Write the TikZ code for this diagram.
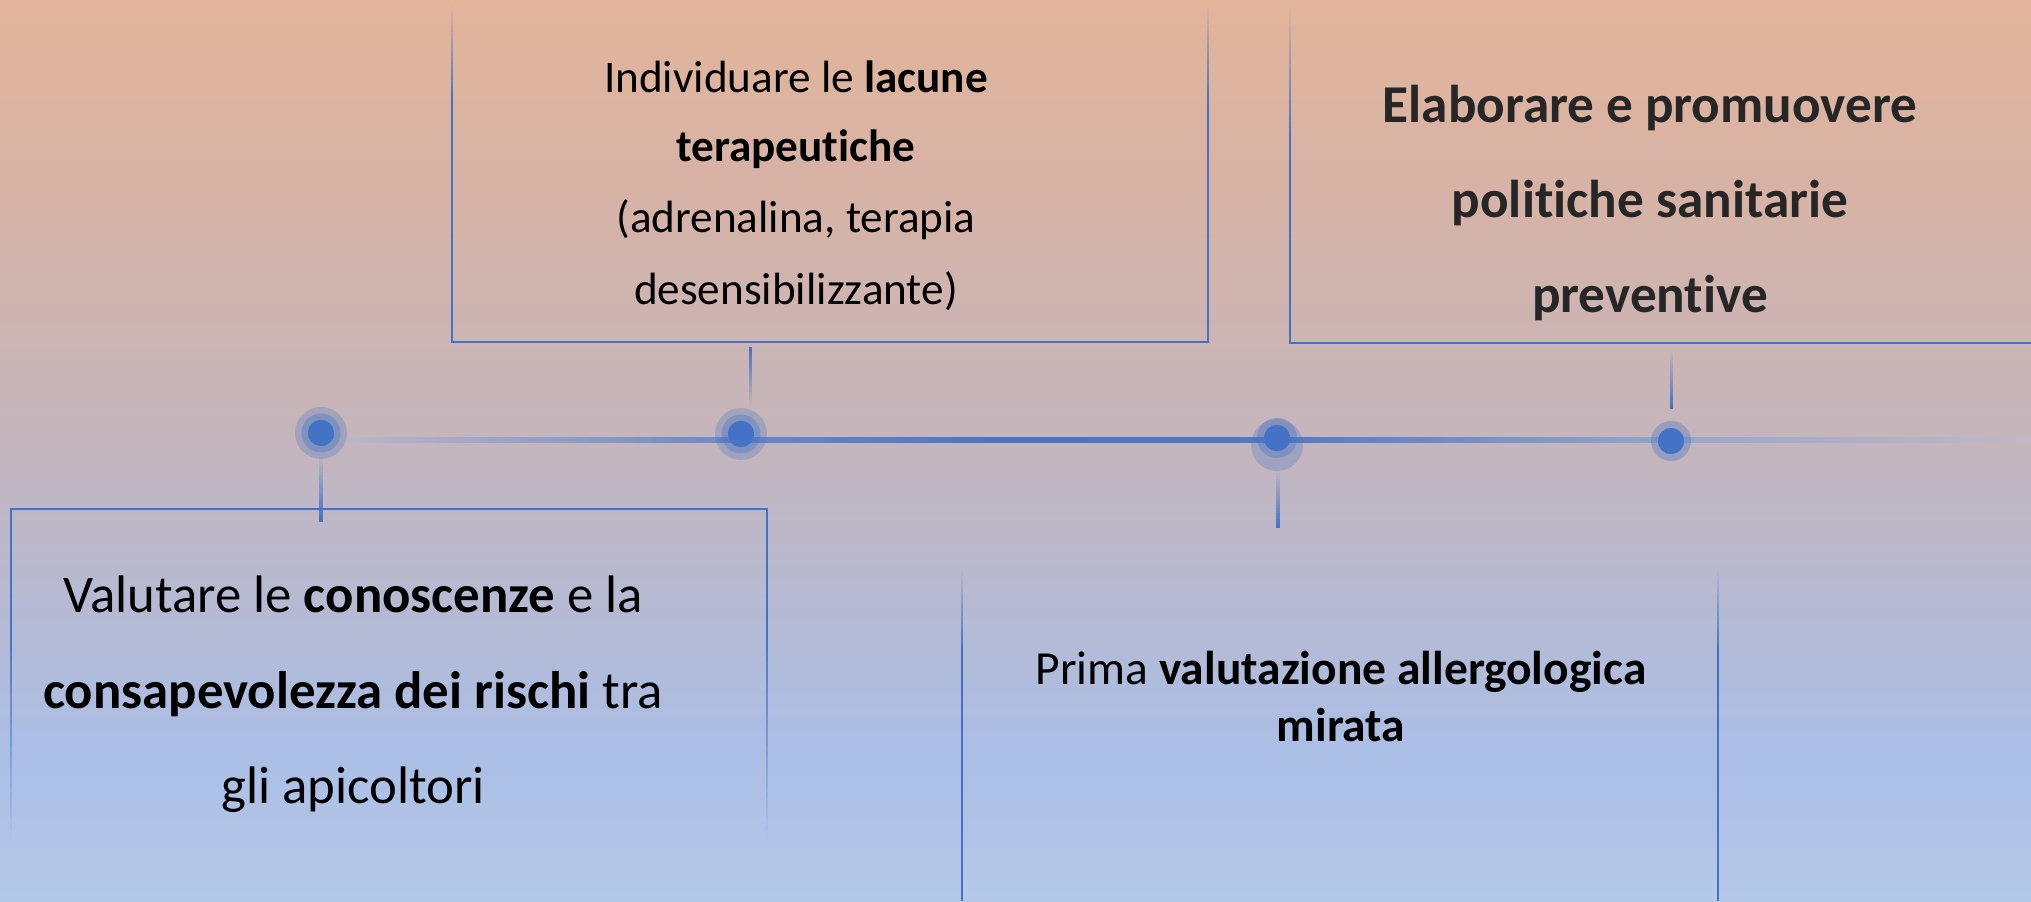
\documentclass[tikz,border=0pt]{standalone}
\usepackage{fontspec}
\setmainfont{Carlito}[Ligatures=NoCommon]
\definecolor{obl}{HTML}{4472C4}
\definecolor{dgray}{HTML}{262626}
\definecolor{bgA}{HTML}{B4C8E8}
\definecolor{bgB}{HTML}{ABBEE5}
\definecolor{bgC}{HTML}{B6BAD2}
\definecolor{bgD}{HTML}{C4B6BE}
\definecolor{bgE}{HTML}{D6B3A6}
\definecolor{bgF}{HTML}{E2B49A}
\definecolor{lA}{HTML}{BDB6C6}
\definecolor{lB}{HTML}{6A88C6}
\definecolor{lC}{HTML}{4A75C5}
\definecolor{lD}{HTML}{5279C5}
\definecolor{lE}{HTML}{7A92C6}
\definecolor{lF}{HTML}{97A6C8}
\definecolor{lG}{HTML}{C3B8C3}
\pgfdeclareverticalshading{bgshade}{100bp}{color(0bp)=(bgA); color(25bp)=(bgA); color(33.4bp)=(bgB); color(41.7bp)=(bgC); color(50bp)=(bgD); color(63.9bp)=(bgE); color(75bp)=(bgF); color(100bp)=(bgF)}
\pgfdeclarehorizontalshading{tlshade}{100bp}{color(0bp)=(lA); color(25bp)=(lA); color(36.75bp)=(lB); color(44.5bp)=(lC); color(52.6bp)=(lD); color(59.25bp)=(lE); color(64.3bp)=(lF); color(75bp)=(lG); color(100bp)=(lG)}
% #1 x, #2 y where opaque, #3 y where transparent, #4 half width (px units)
\newcommand\fadebar[4]{%
  \foreach \fbi in {0,...,19}{%
    \pgfmathsetmacro\fbya{#2+(#3-#2)*\fbi/20}%
    \pgfmathsetmacro\fbyb{#2+(#3-#2)*(\fbi+1)/20}%
    \pgfmathsetmacro\fbop{1-(\fbi+0.5)/20}%
    \fill[obl, opacity=\fbop] (#1-#4,\fbya) rectangle (#1+#4,\fbyb);
  }%
}
\begin{document}
\begin{tikzpicture}[x=0.5pt,y=0.5pt,
  lbl/.style={anchor=base, inner sep=0, font=\fontsize{26.4pt}{30pt}\selectfont},
  lblb/.style={anchor=base, inner sep=0, font=\fontsize{26.6pt}{30pt}\selectfont},
  lbls/.style={anchor=base, inner sep=0, font=\fontsize{23.75pt}{28pt}\selectfont},
  lblt/.style={anchor=base, inner sep=0, font=\fontsize{22.6pt}{27pt}\selectfont},
  edge/.style={obl, line width=1.25pt},
  dotc/.style={circle, fill=obl, minimum size=13pt, inner sep=0},
  halo/.style={fill=obl, opacity=0.28},
  halom/.style={fill=obl, opacity=0.36}]
\useasboundingbox (0,0) rectangle (2031,901);
\shade[shading=bgshade] (0,0) rectangle (2031,901);

% box corners
\coordinate (b1l) at (11,392);  \coordinate (b1r) at (767,392);
\coordinate (b2l) at (452,559); \coordinate (b2r) at (1208,559);
\coordinate (b3l) at (962,0);   \coordinate (b3r) at (1718,0);
\coordinate (b4l) at (1290,558); \coordinate (b4r) at (2031,558);
\coordinate (tlend) at (2031,461);

% box 1 (bottom left)
\draw[edge] (11,271) -- (b1l) -- (b1r) -- (767,271);
\fadebar{11}{271}{61}{1.25}
\fadebar{767}{271}{61}{1.25}
% box 2 (top middle)
\draw[edge] (452,800) -- (b2l) -- (b2r) -- (1208,800);
\fadebar{452}{800}{895}{1.25}
\fadebar{1208}{800}{895}{1.25}
% box 3 (bottom middle)
\draw[edge] (b3l) -- (962,251);
\draw[edge] (b3r) -- (1718,251);
\fadebar{962}{251}{331}{1.25}
\fadebar{1718}{251}{331}{1.25}
% box 4 (top right)
\draw[edge] (1290,760) -- (b4l) -- (b4r);
\fadebar{1290}{760}{895}{1.25}

% timeline
\shade[shading=tlshade] (345,458.5) rectangle (tlend |- 0,463.5);

% dots
\node[dotc] (d1) at (321,468) {};
\node[dotc] (d2) at (741,467) {};
\node[dotc] (d3) at (1277,463) {};
\node[dotc] (d4) at (1671,460) {};
\fill[halo] (d1) circle (13pt);
\fill[halom] (d1) circle (9.75pt);
\fill[halo] (d2) circle (13pt);
\fill[halom] (d2) circle (9.75pt);
\fill[halo] (1277,456) circle (13pt);
\fill[halom] (d3) circle (10pt);
\fill[halom] (d4) circle (10pt);
\node[dotc] at (d1) {};
\node[dotc] at (d2) {};
\node[dotc] at (d3) {};
\node[dotc] at (d4) {};

% ticks
\fadebar{321}{379}{446}{1.75}
\fadebar{750}{554}{494}{1.5}
\fadebar{1278}{373}{431}{1.75}
\fadebar{1671}{492}{551}{1.5}

% texts
\node[lbl] (t1a) at (353,289) {Valutare le \textbf{conoscenze} e la};
\node[lbl] (t1b) at (353,193) {\textbf{consapevolezza dei rischi} tra};
\node[lbl] (t1c) at (353,98) {gli apicoltori};

\node[lblt] (t2a) at (796,808) {Individuare le \textbf{lacune}};
\node[lblt] (t2b) at (796,739) {\textbf{terapeutiche}};
\node[lblt] (t2c) at (796,668) {(adrenalina, terapia};
\node[lblt] (t2d) at (796,596) {desensibilizzante)};

\node[lbls] (t3a) at (1341,217) {Prima \textbf{valutazione allergologica}};
\node[lbls] (t3b) at (1341,160) {\textbf{mirata}};

\node[lblb, text=dgray] (t4a) at (1650,778) {\textbf{Elaborare e promuovere}};
\node[lblb, text=dgray] (t4b) at (1650,683) {\textbf{politiche sanitarie}};
\node[lblb, text=dgray] (t4c) at (1650,588) {\textbf{preventive}};
\end{tikzpicture}
\end{document}
